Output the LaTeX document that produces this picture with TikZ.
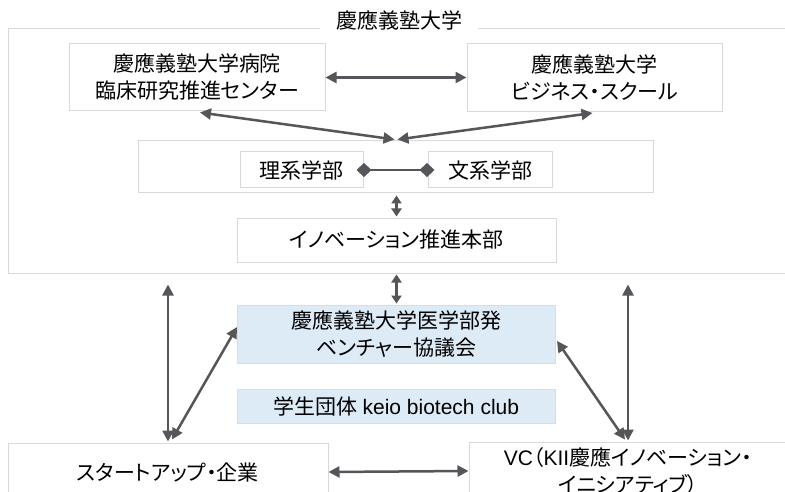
\documentclass[tikz,border=0pt]{standalone}
\usepackage{fontspec}
\setmainfont[RawFeature=+palt]{Noto Sans CJK JP}
\newfontfamily\lat{Liberation Sans}
\usetikzlibrary{arrows.meta,calc}
\definecolor{bordergray}{RGB}{217,217,217}
\definecolor{arrowgray}{RGB}{84,86,90}
\definecolor{paleblue}{RGB}{221,235,247}
\definecolor{bluegray}{RGB}{212,222,232}
\begin{document}
\begin{tikzpicture}[x=1pt,y=-1pt,
  box/.style={draw=bordergray, line width=1pt, inner sep=0pt, align=center, font=\fontsize{21}{27}\selectfont},
  bluebox/.style={box, fill=paleblue, draw=bluegray},
  link/.style={draw=arrowgray, line width=2.5pt, {Triangle[length=11pt,width=11pt]}-{Triangle[length=11pt,width=11pt]}},
  slink/.style={draw=arrowgray, line width=2.5pt, {Triangle[length=8pt,width=10pt]}-{Triangle[length=8pt,width=10pt]}},
  dlink/.style={draw=arrowgray, line width=1.8pt, {Diamond[length=15pt,width=14pt]}-{Diamond[length=15pt,width=14pt]}},
]
\clip (0,0) rectangle (785,492);
\fill[white] (0,0) rectangle (785,492);
% boxes
\node[box, minimum width=792pt, minimum height=244pt] (univ) at (404,151) {};
\node[fill=white, inner sep=0pt, minimum width=158pt, minimum height=22pt, font=\fontsize{21}{27}\selectfont] (title) at (399,20) {慶應義塾大学};
\node[box, minimum width=256pt, minimum height=67pt] (hosp) at (197,77.5) {慶應義塾大学病院\\臨床研究推進センター};
\node[box, minimum width=255pt, minimum height=68pt] (bus) at (594.5,77.5) {慶應義塾大学\\ビジネス・スクール};
\node[box, minimum width=515pt, minimum height=52pt] (mid) at (395.5,167) {};
\node[box, minimum width=123pt, minimum height=36pt] (rikei) at (301.5,170) {理系学部};
\node[box, minimum width=124pt, minimum height=36pt] (bunkei) at (490,170) {文系学部};
\node[box, minimum width=319pt, minimum height=44pt] (innov) at (396.5,240) {イノベーション推進本部};
\node[bluebox, minimum width=318pt, minimum height=58pt] (vent) at (396.5,334) {慶應義塾大学医学部発\\ベンチャー協議会};
\node[bluebox, minimum width=318pt, minimum height=34pt] (club) at (396.5,406) {学生団体 {\lat keio biotech club}};
\node[box, minimum width=320pt, minimum height=58pt] (startup) at (168,472) {スタートアップ・企業};
\node[box, minimum width=318pt, minimum height=58pt, font=\fontsize{21}{26.5}\selectfont] (vc) at (628,471) {{\lat VC}（{\lat KII}慶應イノベーション・\\イニシアティブ）};
% connectors
\draw[link] (hosp.east) -- (bus.west);
\draw[link] ($(hosp.south)+(3,1)$) -- ($(mid.north)+(-1,-1)$);
\draw[link] ($(bus.south)+(-2,1)$) -- ($(mid.north)+(2,-1)$);
\draw[dlink] ($(rikei.east)+(-7,0)$) -- ($(bunkei.west)+(7,0)$);
\draw[slink] ($(mid.south)+(1,2)$) -- ($(innov.north)+(0,-1)$);
\draw[slink] ($(univ.south -| vent.north)+(0,1)$) -- ($(vent.north)+(0,-1)$);
\draw[link] ($(univ.south -| startup.north)+(0,11)$) -- ($(startup.north)+(0,-1)$);
\draw[link] ($(startup.north)+(4,-3)$) -- ($(vent.west)+(0,-7)$);
\draw[link] ($(univ.south -| vc.north)+(0,11)$) -- ($(vc.north)+(0,-1)$);
\draw[link] ($(vent.east)+(1,7)$) -- ($(vc.north)+(-3,-2)$);
\draw[link] (startup.east) -- (vc.west);
\end{tikzpicture}
\end{document}
